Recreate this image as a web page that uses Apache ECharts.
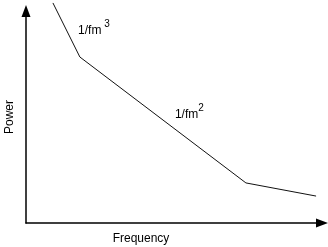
<!DOCTYPE html>
<html><head><meta charset="utf-8">
<script src="https://cdn.jsdelivr.net/npm/echarts@6/dist/echarts.min.js"></script>
<style>html,body{margin:0;padding:0;background:#fff}#c{width:328px;height:247px}</style>
</head><body><div id="c"></div>
<script>
// Schematic power spectrum (arbitrary units)
const xVals = [9.1, 18.2, 74.3, 98.0];
const yVals = [103.8, 78.3, 18.9, 12.7];
const slopeLabels = [
  { base: '1/fm', sup: ' 3', x: 17.6, y: 92 },
  { base: '1/fm', sup: '2', x: 50.3, y: 52.4 }
];
const xName = 'Frequency';
const yName = 'Power';

const font = 'Liberation Sans, Arial, sans-serif';
const chart = echarts.init(document.getElementById('c'), null, { renderer: 'canvas' });
const axisCommon = {
  type: 'value', min: 0, max: 100,
  axisTick: { show: false }, axisLabel: { show: false }, splitLine: { show: false },
  axisLine: { show: true, lineStyle: { color: '#000', width: 1.5 }, symbol: ['none', 'triangle'], symbolSize: [9, 12] },
  nameLocation: 'middle',
  nameTextStyle: { fontFamily: font, fontSize: 12, color: '#000' }
};
chart.setOption({
  animation: false,
  grid: { left: 26, top: 11, right: 6, bottom: 24, containLabel: false, outerBoundsMode: 'none' },
  xAxis: Object.assign({}, axisCommon, {
    name: xName, nameGap: 10,
    nameTextStyle: Object.assign({}, axisCommon.nameTextStyle, { padding: [0, 66, 0, 0] })
  }),
  yAxis: Object.assign({}, axisCommon, { name: yName, nameGap: 10 }),
  series: [{
    type: 'line',
    data: xVals.map((x, i) => [x, yVals[i]]),
    showSymbol: false, symbol: 'none', clip: false,
    lineStyle: { color: '#111', width: 1 },
    markPoint: {
      symbol: 'circle', symbolSize: 0,
      data: slopeLabels.map(l => ({
        coord: [l.x, l.y],
        label: {
          show: true, position: 'right', distance: 0,
          formatter: '{a|' + l.base + '}{s|' + l.sup + '}',
          rich: {
            a: { fontFamily: font, fontSize: 12, color: '#000', padding: [6, 0, 0, 0] },
            s: { fontFamily: font, fontSize: 10, color: '#000', verticalAlign: 'top' }
          }
        }
      }))
    }
  }]
});
</script></body></html>
